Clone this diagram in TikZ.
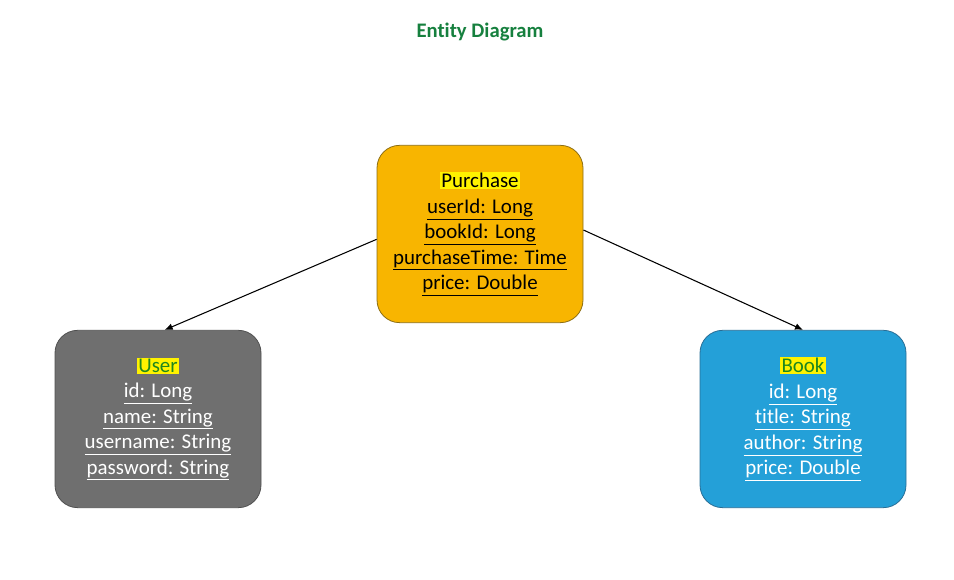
\documentclass[tikz,border=0pt]{standalone}
\usepackage{fontspec}
\setmainfont{Carlito}[Ligatures=NoCommon]
\usepackage{xcolor}
\usepackage{tikz}
\usetikzlibrary{arrows.meta}

\definecolor{titlegreen}{RGB}{22,128,62}
\definecolor{labelgreen}{RGB}{30,135,30}
\definecolor{purchasefill}{RGB}{248,181,0}
\definecolor{purchaseline}{RGB}{140,110,20}
\definecolor{userfill}{RGB}{111,111,111}
\definecolor{userline}{RGB}{80,80,80}
\definecolor{bookfill}{RGB}{36,160,216}
\definecolor{bookline}{RGB}{40,110,150}

\newcommand{\hlname}[2]{{\setlength{\fboxsep}{1pt}\colorbox{yellow}{\textcolor{#1}{#2}}}}

\tikzset{
  entity/.style={draw, line width=0.6pt, rounded corners=17pt, minimum width=154.5pt,
    minimum height=133pt, align=center, font=\fontsize{15.7}{19.1}\selectfont},
  link/.style={-{Latex[length=6pt,width=5pt]}, line width=0.8pt}
}

\begin{document}
\begin{tikzpicture}[x=0.75pt,y=0.75pt,yscale=-1,xscale=1]
\useasboundingbox (0,0) rectangle (954,580);

% Title
\draw (480,32) node [font=\fontsize{15.5}{18}\selectfont\bfseries, text=titlegreen] (title) {Entity Diagram};

% Purchase
\draw (480,234) node [entity, fill=purchasefill, draw=purchaseline] (purchase) {\hlname{black}{Purchase}\\
  \underline{userId: Long}\\
  \underline{bookId: Long}\\
  \underline{purchaseTime: Time}\\
  \underline{price: Double}};
% User
\draw (158,419) node [entity, fill=userfill, draw=userline, text=white] (user) {\hlname{labelgreen}{User}\\
  \underline{id: Long}\\
  \underline{name: String}\\
  \underline{username: String}\\
  \underline{password: String}};
% Book
\draw (803,419) node [entity, fill=bookfill, draw=bookline, text=white] (book) {\hlname{labelgreen}{Book}\\
  \underline{id: Long}\\
  \underline{title: String}\\
  \underline{author: String}\\
  \underline{price: Double}};

% Links
\draw [link] ([yshift=4pt]purchase.west) -- ([xshift=5pt]user.north);
\draw [link] ([yshift=-3pt]purchase.east) -- (book.north);

\end{tikzpicture}
\end{document}
